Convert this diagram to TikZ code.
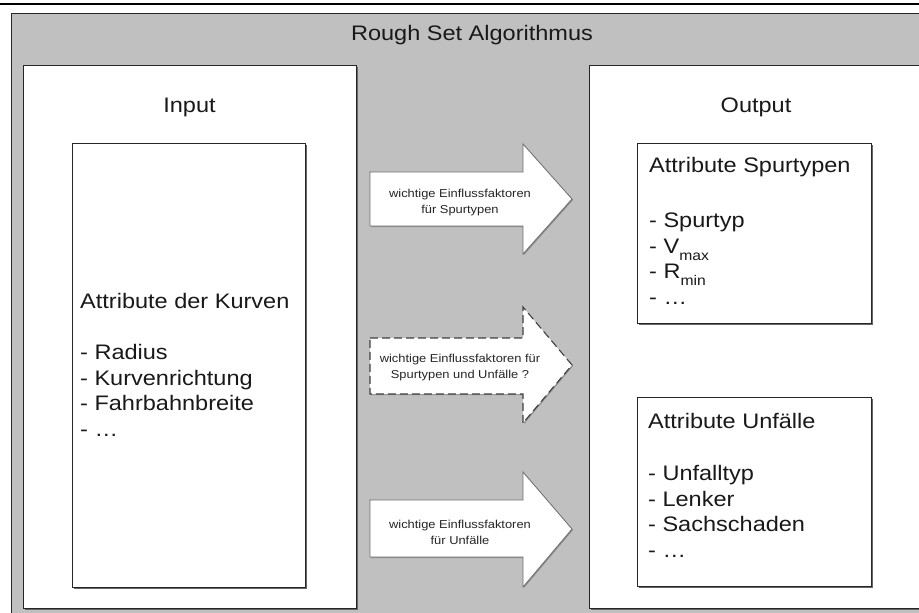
\documentclass[tikz,border=0pt]{standalone}
\usepackage{fontspec}
\setmainfont{Liberation Sans}[FakeStretch=1.12]
\usetikzlibrary{shadows}
\definecolor{silverbg}{HTML}{C0C0C0}
\definecolor{edgegray}{HTML}{6E6E6E}
\newcommand{\lowsub}[1]{\smash{\raisebox{-7pt}{\fontsize{14}{14}\selectfont #1}}}
\begin{document}
\begin{tikzpicture}[x=1pt,y=-1pt,
  framebox/.style={draw=black!85, line width=0.8pt, fill=silverbg},
  whitebox/.style={draw=black!85, line width=0.8pt, fill=white, inner sep=0pt, anchor=north west,
    drop shadow={shadow xshift=1.2pt, shadow yshift=-1.2pt, fill=black!60, opacity=1}},
  arrowshape/.style={draw=edgegray, line width=0.8pt, fill=white, line join=miter,
    drop shadow={shadow xshift=1pt, shadow yshift=-1pt, fill=black!45, opacity=1}},
  dashedarrow/.style={arrowshape, draw=black!75, line width=1.1pt, dash pattern=on 8pt off 4pt},
  bigtext/.style={inner sep=0pt, font=\fontsize{21}{25.5}\selectfont, text=black!90},
  listtext/.style={bigtext, align=left, anchor=base west},
  arrowtext/.style={inner sep=0pt, align=center, font=\fontsize{11.5}{16}\selectfont, text=black!85}
]
\useasboundingbox (0,0) rectangle (919,613);
\clip (0,0) rectangle (919,613);
% top rule
\draw[line width=2pt] (0,4) -- (919,4);
% outer grey frame
\draw[framebox] (11,13) rectangle (934,650);
\node[bigtext, anchor=base] (title) at (472,40) {Rough Set Algorithmus};
% input / output panels
\node[whitebox, minimum width=333pt, minimum height=543pt] (inputbox) at (23,65) {};
\node[whitebox, minimum width=333pt, minimum height=543pt] (outputbox) at (589,65) {};
\node[bigtext, anchor=base] (inputlabel) at (189.5,112) {Input};
\node[bigtext, anchor=base] (outputlabel) at (756,112) {Output};
% inner attribute boxes
\node[whitebox, minimum width=233pt, minimum height=444pt] (kurvenbox) at (72,143) {};
\node[whitebox, minimum width=234pt, minimum height=180pt] (spurbox) at (637,143) {};
\node[whitebox, minimum width=234pt, minimum height=189pt] (unfallbox) at (637,397) {};
% (base anchor of a multi-line node = baseline of its last line)
\node[listtext] (kurventext) at (80,436) {Attribute der Kurven\\[26pt]- Radius\\- Kurvenrichtung\\- Fahrbahnbreite\\- …};
\node[listtext] (spurtext) at (649,304) {Attribute Spurtypen\\[30pt]- Spurtyp\\- V\lowsub{max}\\- R\lowsub{min}\\- …};
\node[listtext] (unfalltext) at (648,557) {Attribute Unfälle\\[27pt]- Unfalltyp\\- Lenker\\- Sachschaden\\- …};
% arrows
\draw[arrowshape] (370,172) -- (523,172) -- (523,144) -- (572,199) -- (523,254) -- (523,226) -- (370,226) -- cycle;
\draw[dashedarrow] (370,338) -- (523,338) -- (523,307) -- (572,365) -- (523,423) -- (523,394) -- (370,394) -- cycle;
\draw[arrowshape] (370,500) -- (523,500) -- (523,472) -- (572,529) -- (523,587) -- (523,557) -- (370,557) -- cycle;
\node[arrowtext] (arrowtextone) at (460,203) {wichtige Einflussfaktoren\\für Spurtypen};
\node[arrowtext] (arrowtexttwo) at (460,368) {wichtige Einflussfaktoren für\\Spurtypen und Unfälle ?};
\node[arrowtext] (arrowtextthree) at (460,532) {wichtige Einflussfaktoren\\für Unfälle};
\end{tikzpicture}
\end{document}
